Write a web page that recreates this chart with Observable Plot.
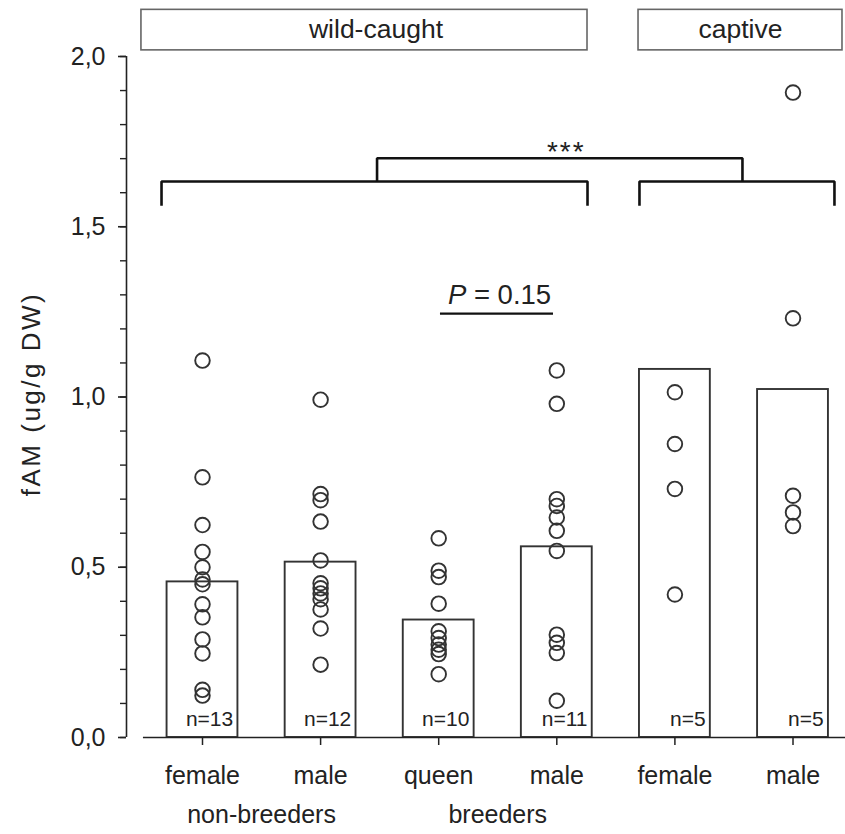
<!DOCTYPE html>
<html><head><meta charset="utf-8">
<script src="https://cdn.jsdelivr.net/npm/d3@7"></script>
<script src="https://cdn.jsdelivr.net/npm/@observablehq/plot@0.6"></script>
<style>body{margin:0;background:#fff} svg{display:block}</style>
</head><body><div id="chart"></div>
<script>
// ---- data ----
const categories = ["female", "male", "queen", "male", "female", "male"];
const groupLabels = ["non-breeders", "breeders"];
const originLabels = ["wild-caught", "captive"];
const means = [0.457, 0.515, 0.345, 0.560, 1.081, 1.022];
const counts = [13, 12, 10, 11, 5, 5];
const nonBreederFemale = [1.107, 0.764, 0.624, 0.545, 0.500, 0.464, 0.450, 0.391, 0.353, 0.288, 0.247, 0.140, 0.123];
const nonBreederMale = [0.992, 0.715, 0.697, 0.634, 0.520, 0.453, 0.438, 0.423, 0.406, 0.376, 0.320, 0.214];
const breederQueen = [0.585, 0.490, 0.471, 0.393, 0.312, 0.292, 0.273, 0.258, 0.245, 0.186];
const breederMale = [1.078, 0.980, 0.700, 0.680, 0.646, 0.607, 0.548, 0.302, 0.278, 0.248, 0.108];
const captiveFemale = [1.014, 0.862, 0.730, 0.420];
const captiveMale = [1.894, 1.231, 0.710, 0.661, 0.621];
const yTicks = [0, 0.5, 1.0, 1.5, 2.0];
const yMinorTicks = [0, 0.1, 0.2, 0.3, 0.4, 0.5, 0.6, 0.7, 0.8, 0.9, 1.0, 1.1, 1.2, 1.3, 1.4, 1.5, 1.6, 1.7, 1.8, 1.9, 2.0];
const yLabel = "fAM (ug/g DW)";
const pLabel = "P = 0.15";
const sigLabel = "***";

// ---- derived tables ----
const pointSets = [nonBreederFemale, nonBreederMale, breederQueen, breederMale, captiveFemale, captiveMale];
const bars = categories.map((c, i) => ({x: i + 1, cat: c, mean: means[i], n: "n=" + counts[i]}));
const points = pointSets.flatMap((vals, i) => vals.map(v => ({x: i + 1, v})));
const groupRows = groupLabels.map((g, i) => ({x: 2 * i + 1.5, g}));

// ---- annotation geometry (in scale units) ----
const xMin = 0.3565, xMax = 6.4445;
const legLow = 1.562, bracketY = 1.633, topY = 1.701;
const brackets = [
  {id: "wild", x1: 0.653, x2: 4.260, yLow: legLow, yHigh: bracketY},
  {id: "captive", x1: 4.700, x2: 6.351, yLow: legLow, yHigh: bracketY},
  {id: "top", x1: 2.478, x2: 5.572, yLow: bracketY, yHigh: topY}
];
const bracketPts = brackets.flatMap(b => [
  {id: b.id, x: b.x1, y: b.yLow}, {id: b.id, x: b.x1, y: b.yHigh},
  {id: b.id, x: b.x2, y: b.yHigh}, {id: b.id, x: b.x2, y: b.yLow}
]);
const boxes = [
  {label: originLabels[0], x1: 0.483, x2: 4.260, tx: 2.469},
  {label: originLabels[1], x1: 4.692, x2: 6.419, tx: 5.555}
];
const boxY1 = 2.018, boxY2 = 2.137, boxTextY = 2.053;

const ink = "#222";
const font = "'Liberation Sans', Arial, Helvetica, sans-serif";

const chart = Plot.plot({
  width: 845,
  height: 834,
  marginLeft: 126,
  marginRight: 0,
  marginTop: 56,
  marginBottom: 97,
  style: {fontFamily: font, background: "#fff", color: ink},
  x: {domain: [xMin, xMax], axis: null},
  y: {domain: [0, 2], axis: null},
  marks: [
    // y axis
    Plot.ruleX([xMin], {y1: 0, y2: 2, stroke: ink, strokeWidth: 1.6}),
    Plot.axisY({ticks: yMinorTicks, tickSize: 6, tickFormat: () => "", color: ink, strokeWidth: 1.4, label: null}),
    Plot.axisY({ticks: yTicks, tickSize: 8, tickPadding: 13, tickFormat: d => d.toFixed(1).replace(".", ","), fontSize: 25, color: ink, strokeWidth: 1.6, label: null}),
    // bars
    Plot.rect(bars, {x1: d => d.x - 0.3, x2: d => d.x + 0.3, y1: 0, y2: "mean", fill: "white", stroke: "#333", strokeWidth: 1.9}),
    // points
    Plot.dot(points, {x: "x", y: "v", r: 7.3, stroke: "#333", strokeWidth: 1.9, fill: "none"}),
    // n labels
    Plot.text(bars, {x: d => d.x + 0.26, text: "n", frameAnchor: "bottom", lineAnchor: "bottom", textAnchor: "end", dy: -11.5, fontSize: 21, fill: ink}),
    // x axis
    Plot.ruleY([0], {x1: 0.5, x2: xMax, stroke: ink, strokeWidth: 1.6}),
    Plot.axisX({ticks: [1, 2, 3, 4, 5, 6], tickSize: 8, tickFormat: () => "", color: ink, strokeWidth: 1.5, label: null}),
    Plot.text(bars, {x: "x", text: "cat", frameAnchor: "bottom", lineAnchor: "bottom", dy: 46.5, fontSize: 25, fill: ink}),
    Plot.text(groupRows, {x: "x", text: "g", frameAnchor: "bottom", lineAnchor: "bottom", dy: 85.5, fontSize: 25, fill: ink}),
    // y label
    Plot.text([yLabel], {frameAnchor: "left", textAnchor: "middle", rotate: -90, dx: -95, dy: -3, fontSize: 26, fill: ink, lineAnchor: "middle", className: "ylab"}),
    // brackets
    Plot.line(bracketPts, {x: "x", y: "y", z: "id", stroke: "#111", strokeWidth: 2.6, strokeLinejoin: "miter", strokeLinecap: "butt"}),
    Plot.text([sigLabel], {x: 4.08, y: topY, lineAnchor: "bottom", dy: 3, fontSize: 28, fill: ink, className: "sig"}),
    // P value
    Plot.text([pLabel], {x: 3.515, y: 1.274, lineAnchor: "bottom", fontSize: 27.5, fill: ink, className: "pval"}),
    Plot.ruleY([1.245], {x1: 3.015, x2: 3.972, stroke: "#111", strokeWidth: 2.4}),
    // origin boxes
    Plot.rect(boxes, {x1: "x1", x2: "x2", y1: boxY1, y2: boxY2, fill: "white", stroke: "#666", strokeWidth: 1.6}),
    Plot.text(boxes, {x: "tx", y: boxTextY, text: "label", lineAnchor: "bottom", fontSize: 26.5, fill: ink})
  ]
});

document.getElementById("chart").appendChild(chart);

// style tweaks
chart.querySelectorAll(".ylab text").forEach(t => t.setAttribute("letter-spacing", "2.5"));
chart.querySelectorAll(".sig text").forEach(t => t.setAttribute("letter-spacing", "2"));
chart.querySelectorAll(".pval text").forEach(t => {
  const s = t.textContent;
  if (s.startsWith("P")) {
    t.textContent = "";
    const a = document.createElementNS("http://www.w3.org/2000/svg", "tspan");
    a.setAttribute("font-style", "italic");
    a.textContent = "P";
    t.appendChild(a);
    t.appendChild(document.createTextNode(s.slice(1)));
  }
});
</script>
</body></html>
